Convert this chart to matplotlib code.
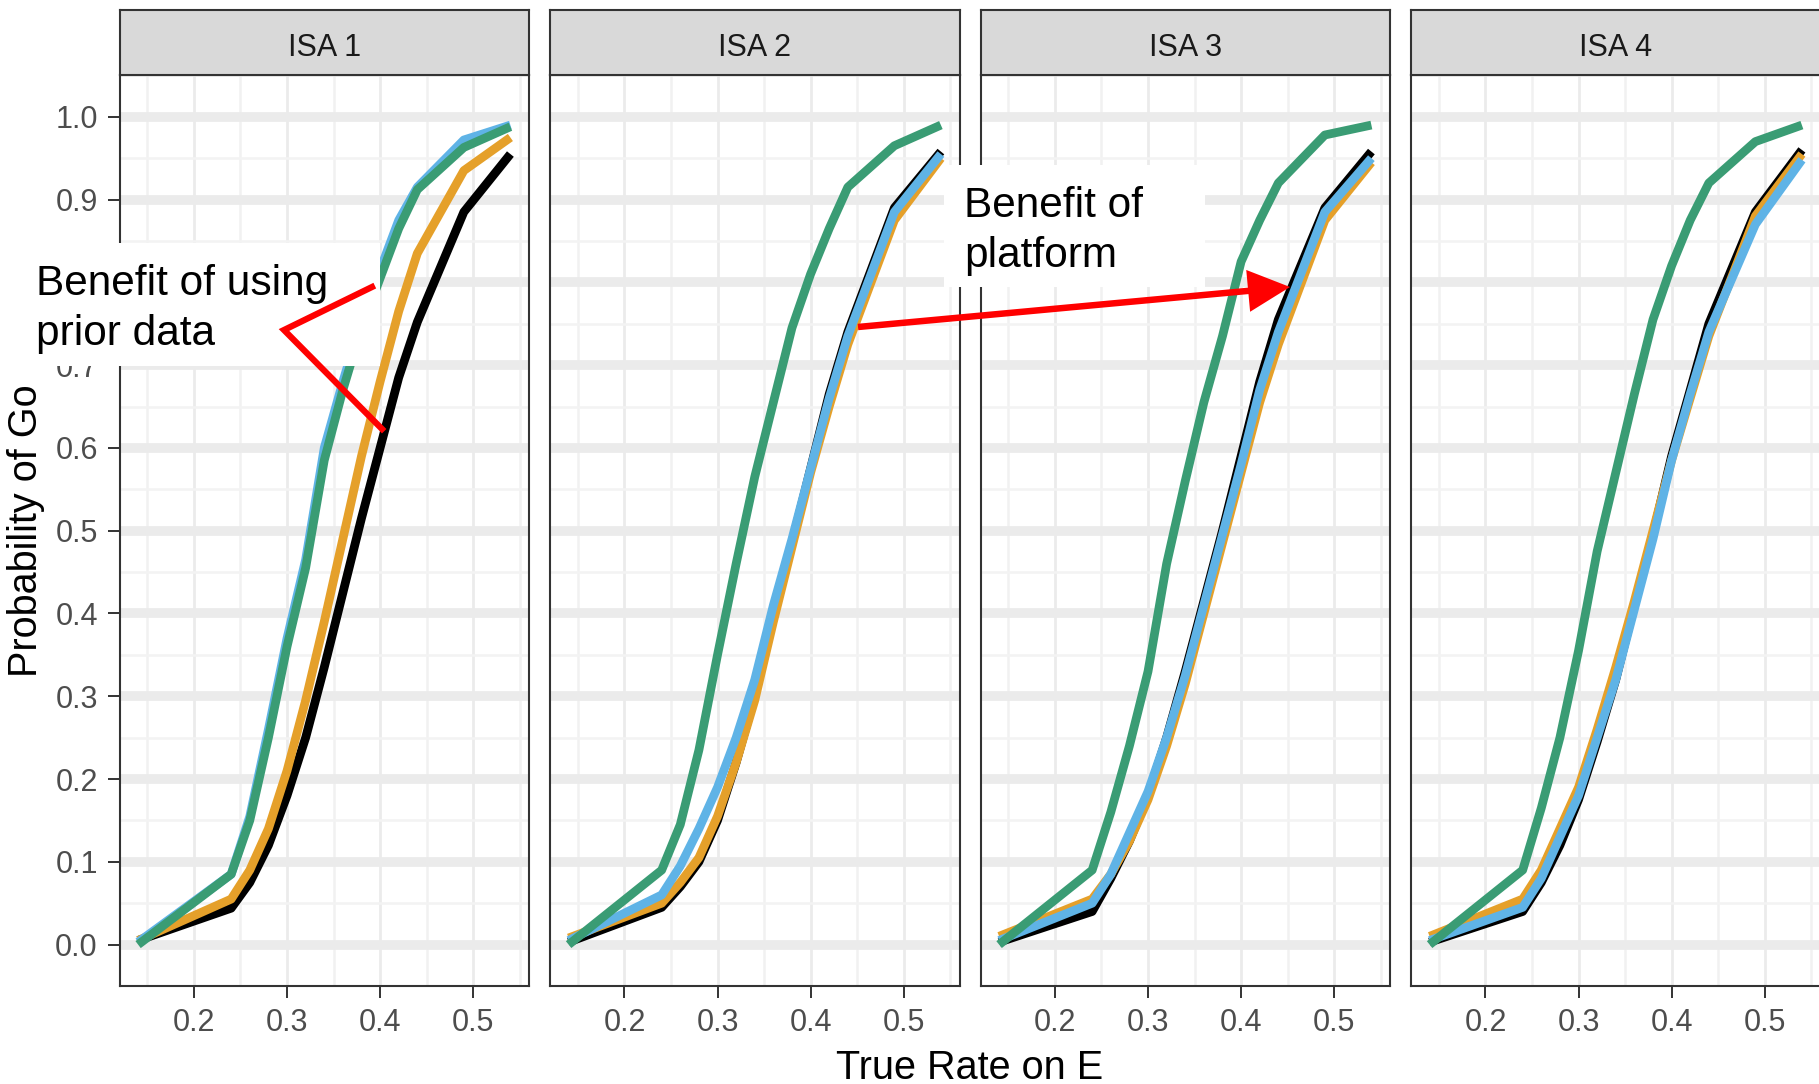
import matplotlib
matplotlib.use("Agg")
import matplotlib.pyplot as plt
from matplotlib.patches import Rectangle, FancyArrow

plt.rcParams['font.family'] = ['Liberation Sans', 'DejaVu Sans']

W, H = 1819, 1084

# data
panels = ["ISA 1", "ISA 2", "ISA 3", "ISA 4"]
rate = [0.14, 0.24, 0.26, 0.28, 0.30, 0.32, 0.34, 0.36, 0.38, 0.40, 0.42, 0.44, 0.49, 0.54]

black = [
    [0.005, 0.044, 0.075, 0.12, 0.18, 0.25, 0.335, 0.425, 0.515, 0.60, 0.685, 0.752, 0.885, 0.955],
    [0.003, 0.045, 0.07, 0.10, 0.15, 0.22, 0.30, 0.395, 0.485, 0.575, 0.665, 0.74, 0.89, 0.958],
    [0.003, 0.04, 0.08, 0.125, 0.18, 0.25, 0.33, 0.415, 0.50, 0.59, 0.68, 0.755, 0.89, 0.958],
    [0.003, 0.04, 0.075, 0.12, 0.175, 0.245, 0.32, 0.41, 0.495, 0.59, 0.67, 0.75, 0.885, 0.96],
]
orange = [
    [0.005, 0.055, 0.09, 0.14, 0.21, 0.295, 0.39, 0.49, 0.59, 0.68, 0.765, 0.835, 0.935, 0.975],
    [0.008, 0.05, 0.075, 0.105, 0.155, 0.22, 0.295, 0.39, 0.48, 0.57, 0.65, 0.725, 0.875, 0.95],
    [0.01, 0.055, 0.085, 0.125, 0.175, 0.24, 0.315, 0.40, 0.485, 0.57, 0.655, 0.725, 0.875, 0.945],
    [0.01, 0.055, 0.09, 0.14, 0.19, 0.26, 0.335, 0.415, 0.50, 0.585, 0.66, 0.735, 0.88, 0.955],
]
blue = [
    [0.003, 0.085, 0.155, 0.26, 0.37, 0.465, 0.60, 0.68, 0.755, 0.815, 0.875, 0.915, 0.972, 0.99],
    [0.005, 0.06, 0.095, 0.14, 0.19, 0.25, 0.32, 0.41, 0.49, 0.575, 0.66, 0.735, 0.885, 0.955],
    [0.005, 0.05, 0.085, 0.135, 0.185, 0.25, 0.325, 0.41, 0.495, 0.58, 0.67, 0.74, 0.885, 0.95],
    [0.005, 0.045, 0.08, 0.13, 0.18, 0.25, 0.32, 0.405, 0.49, 0.585, 0.665, 0.74, 0.87, 0.948],
]
green = [
    [0.0, 0.085, 0.15, 0.25, 0.36, 0.455, 0.585, 0.67, 0.745, 0.805, 0.865, 0.912, 0.963, 0.988],
    [0.0, 0.09, 0.145, 0.235, 0.35, 0.46, 0.565, 0.655, 0.745, 0.81, 0.865, 0.915, 0.965, 0.99],
    [0.0, 0.09, 0.16, 0.24, 0.33, 0.46, 0.56, 0.655, 0.735, 0.825, 0.875, 0.92, 0.978, 0.99],
    [0.0, 0.09, 0.165, 0.25, 0.355, 0.475, 0.57, 0.665, 0.755, 0.82, 0.875, 0.92, 0.97, 0.99],
]

x_major = [0.2, 0.3, 0.4, 0.5]
x_minor = [0.15, 0.25, 0.35, 0.45, 0.55]
y_major = [i / 10 for i in range(11)]
y_minor = [i / 10 + 0.05 for i in range(-1, 11)]

colors = {"black": "#000000", "orange": "#E5A02A", "blue": "#5FB3E6", "green": "#3A9C74"}

fig = plt.figure(figsize=(W / 100, H / 100), dpi=100)

panel_left = [119.5, 550, 980.5, 1411]
panel_w = 409.5
strip_top, panel_top, panel_bot = 10.4, 75.4, 986

for i, name in enumerate(panels):
    x0 = panel_left[i]
    ax = fig.add_axes([x0 / W, 1 - panel_bot / H, panel_w / W, (panel_bot - panel_top) / H])
    ax.set_xlim(0.12, 0.56)
    ax.set_ylim(-0.05, 1.05)
    ax.set_xticks(x_major)
    ax.set_xticks(x_minor, minor=True)
    ax.set_yticks(y_major)
    ax.set_yticks(y_minor, minor=True)
    ax.set_axisbelow(True)
    ax.grid(True, which="major", axis="y", color="#EBEBEB", lw=7)
    ax.grid(True, which="minor", axis="y", color="#F3F3F3", lw=1.8)
    ax.grid(True, which="major", axis="x", color="#EBEBEB", lw=2)
    ax.grid(True, which="minor", axis="x", color="#F1F1F1", lw=1.8)

    ax.plot(rate, black[i], color=colors["black"], lw=6.3, solid_capstyle="butt", zorder=2)
    ax.plot(rate, orange[i], color=colors["orange"], lw=6.3, solid_capstyle="butt", zorder=3)
    ax.plot(rate, blue[i], color=colors["blue"], lw=6.3, solid_capstyle="butt", zorder=4)
    ax.plot(rate, green[i], color=colors["green"], lw=6.3, solid_capstyle="butt", zorder=5)

    ax.set_xticklabels(["0.2", "0.3", "0.4", "0.5"])
    ax.tick_params(axis="both", which="major", length=8.6, width=1.4, color="#333333",
                   labelsize=22, labelcolor="#4D4D4D", pad=7)
    ax.tick_params(which="minor", length=0)
    if i == 0:
        ax.set_yticklabels([f"{v:.1f}" for v in y_major])
    else:
        ax.tick_params(axis="y", which="major", length=0, labelleft=False)
    for s in ax.spines.values():
        s.set_color("#333333")
        s.set_linewidth(1.5)

    # facet strip
    sx = fig.add_axes([x0 / W, 1 - panel_top / H, panel_w / W, (panel_top - strip_top) / H])
    sx.set_facecolor("#D9D9D9")
    sx.set_xticks([])
    sx.set_yticks([])
    for s in sx.spines.values():
        s.set_color("#333333")
        s.set_linewidth(1.5)
    sx.text(0.5, 0.30, name, transform=sx.transAxes, ha="center", va="baseline",
            fontsize=22, color="#1A1A1A")

fig.text(26 / W, 1 - 531 / H, "Probability of Go", rotation=90, ha="center", va="center",
         fontsize=28.5, color="#000000")
fig.text(970 / W, 1 - 1079 / H, "True Rate on E", ha="center", va="baseline",
         fontsize=28.5, color="#000000")

# annotation layer in pixel units
ov = fig.add_axes([0, 0, 1, 1], zorder=10)
ov.set_xlim(0, W)
ov.set_ylim(H, 0)
ov.axis("off")
ov.patch.set_alpha(0)

ov.add_patch(Rectangle((0, 243), 380, 123, fc="white", ec="none"))
ov.text(36, 295, "Benefit of using", fontsize=30.5, va="baseline", ha="left")
ov.text(36, 345, "prior data", fontsize=30.5, va="baseline", ha="left")
ov.plot([372, 284, 382], [287, 330, 429], color="#FF0000", lw=4.5, solid_joinstyle="miter")

ov.add_patch(Rectangle((944, 165), 261, 122, fc="white", ec="none"))
ov.text(964, 217, "Benefit of", fontsize=30.5, va="baseline", ha="left")
ov.text(964, 267, "platform", fontsize=30.5, va="baseline", ha="left")
ov.add_patch(FancyArrow(858, 327, 1290 - 858, 287 - 327, width=6.5, head_width=42,
                        head_length=42, length_includes_head=True, fc="#FF0000", ec="none"))

fig.savefig("out.png", dpi=100)
